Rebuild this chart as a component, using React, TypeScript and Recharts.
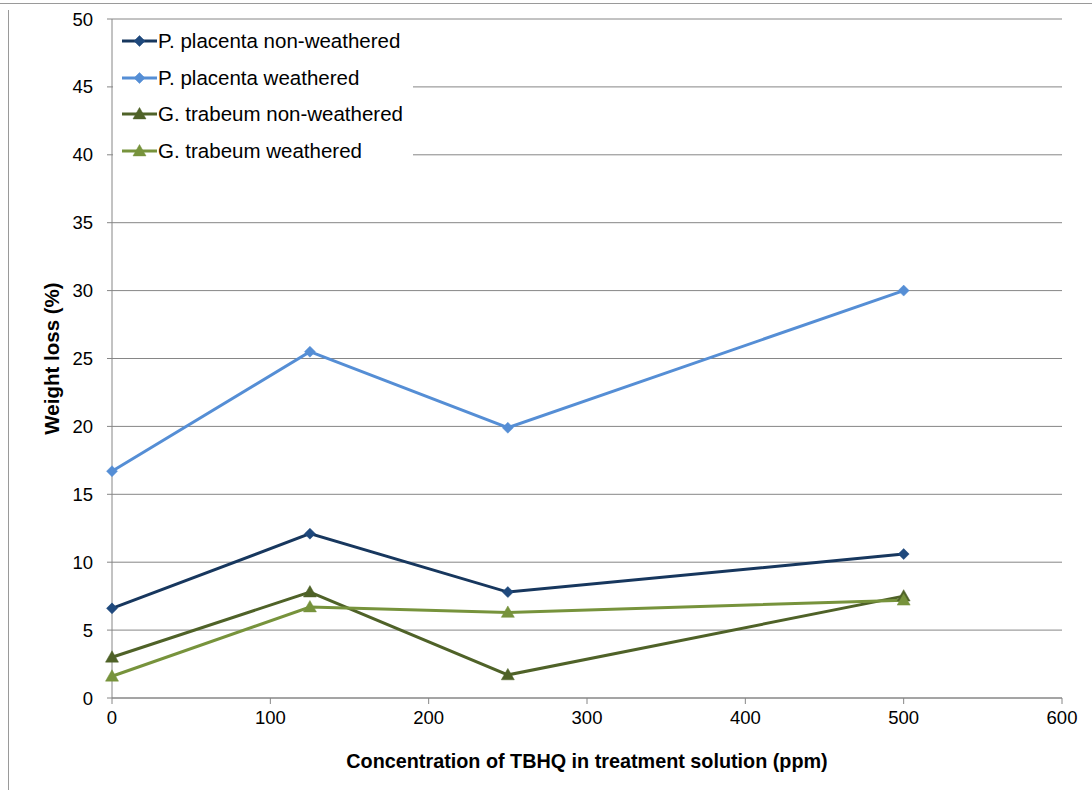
import { LineChart, Line, XAxis, YAxis, CartesianGrid } from "recharts";

// ─── Data ─────────────────────────────────────────────────────────────────────

const CONCENTRATIONS = [0, 125, 250, 500];
const PP_NON_WEATHERED = [6.6, 12.1, 7.8, 10.6];
const PP_WEATHERED = [16.7, 25.5, 19.9, 30.0];
const GT_NON_WEATHERED = [3.0, 7.8, 1.7, 7.5];
const GT_WEATHERED = [1.6, 6.7, 6.3, 7.2];

const X_TICKS = [0, 100, 200, 300, 400, 500, 600];
const Y_TICKS = [0, 5, 10, 15, 20, 25, 30, 35, 40, 45, 50];

const SERIES = [
  { key: "ppn", name: "P. placenta non-weathered", values: PP_NON_WEATHERED, stroke: "#17375E", fill: "#1F497D", shape: "diamond" },
  { key: "ppw", name: "P. placenta weathered", values: PP_WEATHERED, stroke: "#558ED5", fill: "#558ED5", shape: "diamond" },
  { key: "gtn", name: "G. trabeum non-weathered", values: GT_NON_WEATHERED, stroke: "#4F6228", fill: "#4F6228", shape: "triangle" },
  { key: "gtw", name: "G. trabeum weathered", values: GT_WEATHERED, stroke: "#77933C", fill: "#77933C", shape: "triangle" },
];

const data = CONCENTRATIONS.map((c, i) => {
  const row: Record<string, number> = { x: c };
  SERIES.forEach((s) => { row[s.key] = s.values[i]; });
  return row;
});

const GRID = "#868686";
const FONT = "'Liberation Sans', Arial, sans-serif";

// ─── Markers ──────────────────────────────────────────────────────────────────

function Marker({ cx, cy, shape, fill }: { cx: number; cy: number; shape: string; fill: string }) {
  if (cx == null || cy == null) return null;
  if (shape === "diamond") {
    const r = 5.5;
    return <path d={`M${cx},${cy - r} L${cx + r},${cy} L${cx},${cy + r} L${cx - r},${cy} Z`} fill={fill} stroke={fill} strokeWidth={0.5} />;
  }
  const r = 6.5;
  return <path d={`M${cx},${cy - r} L${cx + r},${cy + r * 0.75} L${cx - r},${cy + r * 0.75} Z`} fill={fill} stroke={fill} strokeWidth={0.5} />;
}

// legend sits over the plot with a white box, like the Excel original
function ChartLegend() {
  return (
    <div style={{ position: "absolute", left: 113, top: 21, width: 300, height: 149, background: "#fff", fontFamily: FONT, fontSize: 20.5, color: "#000" }}>
      {SERIES.map((s, i) => (
        <div key={s.key} style={{ position: "absolute", left: 8, top: 20 + i * 36.7, transform: "translateY(-50%)", display: "flex", alignItems: "center", whiteSpace: "nowrap" }}>
          <svg width={37} height={16} style={{ display: "block" }}>
            <line x1={1} y1={8} x2={36} y2={8} stroke={s.stroke} strokeWidth={3} />
            <Marker cx={18.5} cy={8} shape={s.shape} fill={s.fill} />
          </svg>
          <span>{s.name}</span>
        </div>
      ))}
    </div>
  );
}

// ─── Chart ────────────────────────────────────────────────────────────────────

export default function App() {
  return (
    <div style={{ position: "absolute", left: 0, top: 0, width: 1092, height: 796, background: "#fff" }}>
      <div style={{ position: "absolute", left: 0, top: 3, width: 1092, height: 1, background: "#9a9a9a" }} />
      <div style={{ position: "absolute", left: 8, top: 10, width: 1, height: 780, background: "#9a9a9a" }} />
      <LineChart width={1092} height={796} data={data} margin={{ top: 19, right: 30, left: 52, bottom: 38 }}>
        <CartesianGrid stroke={GRID} vertical={false} />
        <XAxis
          dataKey="x"
          type="number"
          domain={[0, 600]}
          ticks={X_TICKS}
          height={60}
          stroke={GRID}
          tickSize={6}
          tickMargin={7}
          tick={{ fill: "#000", fontSize: 18.5, fontFamily: FONT }}
          label={{ value: "Concentration of TBHQ in treatment solution (ppm)", position: "insideBottom", offset: -10, style: { fill: "#000", fontSize: 19.8, fontWeight: 700, fontFamily: FONT } }}
        />
        <YAxis
          type="number"
          domain={[0, 50]}
          ticks={Y_TICKS}
          width={60}
          stroke={GRID}
          tickSize={5}
          tickMargin={14}
          tick={{ fill: "#000", fontSize: 18.5, fontFamily: FONT }}
          label={{ value: "Weight loss (%)", angle: -90, position: "insideLeft", offset: 0, style: { fill: "#000", fontSize: 20.5, fontWeight: 700, fontFamily: FONT, textAnchor: "middle" } }}
        />
        {SERIES.map((s) => (
          <Line
            key={s.key}
            dataKey={s.key}
            name={s.name}
            type="linear"
            stroke={s.stroke}
            strokeWidth={3}
            isAnimationActive={false}
            dot={(p: any) => <Marker key={`${s.key}-${p.index}`} cx={p.cx} cy={p.cy} shape={s.shape} fill={s.fill} />}
            activeDot={false}
          />
        ))}
      </LineChart>
      <ChartLegend />
    </div>
  );
}
